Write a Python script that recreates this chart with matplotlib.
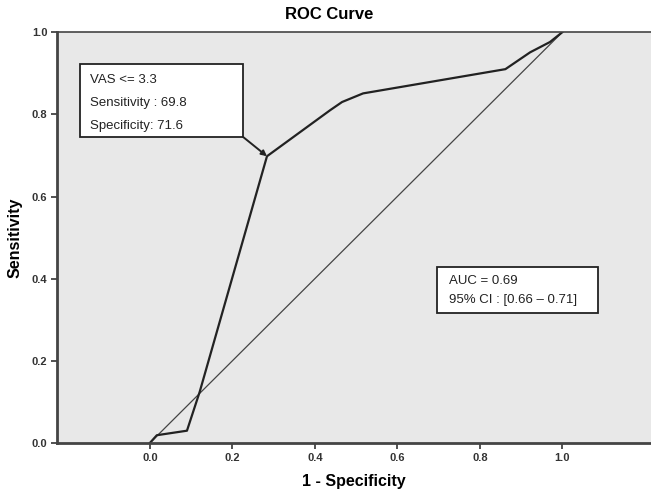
import matplotlib
matplotlib.use("Agg")
import matplotlib.pyplot as plt
from matplotlib.patches import Rectangle

# ROC curve points
fpr = [0.0, 0.017, 0.09, 0.121, 0.284, 0.437, 0.466, 0.517, 0.862, 0.922, 0.97, 1.0]
tpr = [0.0, 0.019, 0.03, 0.125, 0.698, 0.81, 0.83, 0.851, 0.91, 0.951, 0.976, 1.0]
ref_x = [0.0, 1.0]
ref_y = [0.0, 1.0]
cut_x, cut_y = 0.284, 0.698
xticks = [0.0, 0.2, 0.4, 0.6, 0.8, 1.0]
yticks = [0.0, 0.2, 0.4, 0.6, 0.8, 1.0]
cut_lines = ["VAS <= 3.3", "Sensitivity : 69.8", "Specificity: 71.6"]
auc_lines = ["AUC = 0.69", "95% CI : [0.66 \u2013 0.71]"]

plt.rcParams['font.family'] = ['Liberation Sans', 'DejaVu Sans']

fig = plt.figure(figsize=(6.51, 4.95), dpi=100)
ax = fig.add_axes([0.0876, 0.105, 0.9124, 0.830])
ax.set_facecolor('#e8e8e8')

ax.plot(ref_x, ref_y, color='#444444', lw=0.9)
ax.plot(fpr, tpr, color='#222222', lw=1.6)

ax.set_xlim(-0.225, 1.215)
ax.set_ylim(0, 1)
ax.set_xticks(xticks)
ax.set_yticks(yticks)
ax.set_xticklabels([f"{t:.1f}" for t in xticks], fontsize=8, fontweight='bold', color='#333333')
ax.set_yticklabels([f"{t:.1f}" for t in yticks], fontsize=8, fontweight='bold', color='#333333')
ax.tick_params(direction='out', length=4, width=1.2, color='#333333', pad=3)

for s in ['left', 'bottom']:
    ax.spines[s].set_linewidth(2.0)
    ax.spines[s].set_color('#444444')
ax.spines['top'].set_linewidth(1.2)
ax.spines['top'].set_color('#444444')
ax.spines['right'].set_visible(False)

fig.text(0.505, 0.97, "ROC Curve", ha='center', va='center', fontsize=12, fontweight='bold')
ax.set_xlabel("1 - Specificity", fontsize=11.5, fontweight='bold')
ax.xaxis.set_label_coords(0.5, -0.075)
ax.set_ylabel("Sensitivity", fontsize=11.5, fontweight='bold')
ax.yaxis.set_label_coords(-0.058, 0.5)

# cut-off box + arrow
ax.add_patch(Rectangle((-0.170, 0.745), 0.396, 0.177, fc='white', ec='#222222', lw=1.3, zorder=3))
for i, line in enumerate(cut_lines):
    ax.text(-0.146, 0.883 - i * 0.056, line, fontsize=9.5, va='center', ha='left',
            color='#222222', zorder=4)
ax.annotate("", xy=(cut_x, cut_y), xytext=(0.226, 0.745),
            arrowprops=dict(arrowstyle='-|>', color='#222222', lw=1.4,
                            shrinkA=0, shrinkB=0, mutation_scale=8), zorder=4)

# AUC box
ax.add_patch(Rectangle((0.697, 0.316), 0.390, 0.112, fc='white', ec='#222222', lw=1.3, zorder=3))
for i, line in enumerate(auc_lines):
    ax.text(0.726, 0.394 - i * 0.046, line, fontsize=9.5, va='center', ha='left',
            color='#222222', zorder=4)

fig.savefig("out.png", dpi=100)
